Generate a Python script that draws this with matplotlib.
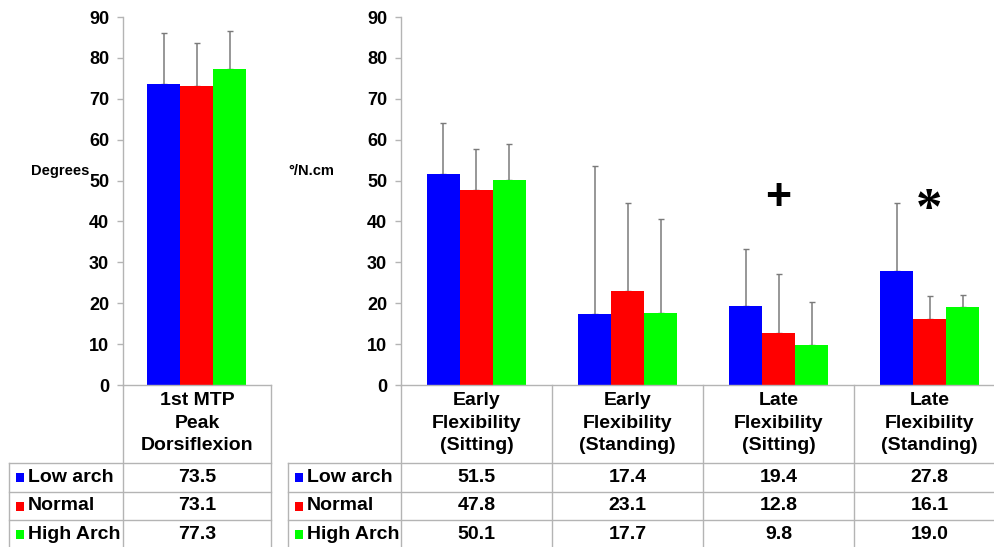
import matplotlib
matplotlib.use('Agg')
import matplotlib.pyplot as plt
from matplotlib.patches import Rectangle
from matplotlib.lines import Line2D
import numpy as np

plt.rcParams['font.family'] = ['Liberation Sans', 'DejaVu Sans']
plt.rcParams['font.weight'] = 'bold'

# ── Data ─────────────────────────────────────────────────────────────────────
groups = ['Low arch', 'Normal', 'High Arch']
colors = ['#0000FF', '#FF0000', '#00FF00']

left_cat = ['1st MTP\nPeak\nDorsiflexion']
left_mean = {'Low arch': [73.5], 'Normal': [73.1], 'High Arch': [77.3]}
left_sd = {'Low arch': [12.6], 'Normal': [10.5], 'High Arch': [9.2]}

right_cat = ['Early\nFlexibility\n(Sitting)', 'Early\nFlexibility\n(Standing)',
             'Late\nFlexibility\n(Sitting)', 'Late\nFlexibility\n(Standing)']
right_mean = {'Low arch': [51.5, 17.4, 19.4, 27.8],
              'Normal': [47.8, 23.1, 12.8, 16.1],
              'High Arch': [50.1, 17.7, 9.8, 19.0]}
right_sd = {'Low arch': [12.6, 36.1, 13.9, 16.7],
            'Normal': [10.0, 21.5, 14.4, 5.7],
            'High Arch': [8.9, 23.0, 10.6, 3.0]}

# significance markers: (category index, symbol)
markers = [(2, '+'), (3, '*')]

W, H = 995, 547
fig = plt.figure(figsize=(W / 100, H / 100), dpi=100)
fig.patch.set_facecolor('white')

GRID = '#b4b4b4'
Y0, Y90 = 385, 17          # pixel rows of 0 and 90
ROWS = [463, 492, 520, 549]  # table row lines


def fx(x):
    return x / W


def fy(y):
    return 1 - y / H


def hline(x0, x1, y):
    fig.add_artist(Line2D([fx(x0), fx(x1)], [fy(y), fy(y)], color=GRID, lw=1.0))


def vline(x, y0, y1):
    fig.add_artist(Line2D([fx(x), fx(x)], [fy(y0), fy(y1)], color=GRID, lw=1.0))


def panel(x0, x1, cats, means, sds, ylabel, ylabel_x):
    ax = fig.add_axes([fx(x0), fy(Y0), (x1 - x0) / W, (Y0 - Y90) / H])
    n = len(cats)
    xs = np.arange(n)
    bw = 33 / ((x1 - x0) / n)
    for i, g in enumerate(groups):
        pos = xs + (i - 1) * bw
        ax.bar(pos, means[g], width=bw, color=colors[i], zorder=2)
        ax.errorbar(pos, means[g], yerr=[np.zeros(n), sds[g]], fmt='none',
                    ecolor='#7a7a7a', elinewidth=1.1, capsize=2.2, capthick=1.0,
                    zorder=1)
    ax.set_xlim(-0.5, n - 0.5)
    ax.set_ylim(0, 90)
    ax.set_yticks(range(0, 91, 10))
    ax.set_xticks([])
    for s in ['top', 'right']:
        ax.spines[s].set_visible(False)
    for s in ['left', 'bottom']:
        ax.spines[s].set_color(GRID)
        ax.spines[s].set_linewidth(1.0)
    ax.tick_params(axis='y', colors=GRID, length=4, width=1.0, pad=6,
                   labelcolor='black', labelsize=13)
    for t in ax.get_yticklabels():
        t.set_fontweight('bold')
    ax.patch.set_alpha(0)
    fig.text(fx(ylabel_x), fy(171), ylabel, fontsize=10.5, fontweight='bold',
             ha='left', va='center')

    # table below the panel
    colw = (x1 - x0) / n
    for j, c in enumerate(cats):
        cx = x0 + colw * (j + 0.5)
        fig.text(fx(cx), fy((Y0 + ROWS[0]) / 2 - 1), c, ha='center', va='center',
                 fontsize=14, fontweight='bold', linespacing=1.42)
        for i, g in enumerate(groups):
            ry = (ROWS[i] + ROWS[i + 1]) / 2
            fig.text(fx(cx), fy(ry), f'{means[g][j]:.1f}', ha='center',
                     va='center', fontsize=14, fontweight='bold')
    vline(x0, Y0, H + 2)
    for j in range(1, n + 1):
        vline(x0 + colw * j, Y0, H + 2)
    return ax


def row_labels(xl, xr):
    vline(xl, ROWS[0], H + 2)
    for r in ROWS[:3]:
        hline(xl, xr, r)
    for i, g in enumerate(groups):
        ry = (ROWS[i] + ROWS[i + 1]) / 2
        fig.add_artist(Rectangle((fx(xl + 7), fy(ry + 4.5)), 8 / W, 9 / H,
                                 transform=fig.transFigure, color=colors[i], lw=0))
        fig.text(fx(xl + 19), fy(ry), g, ha='left', va='center',
                 fontsize=14, fontweight='bold')


ax1 = panel(123, 271, left_cat, left_mean, left_sd, 'Degrees', 31)
ax2 = panel(401, 1005, right_cat, right_mean, right_sd, '°/N.cm', 288)
row_labels(9, 271)
row_labels(288, 1005)

# significance symbols
for idx, sym in markers:
    if sym == '+':
        ax2.text(idx, 45.6, sym, ha='center', va='center', fontsize=32,
                 fontweight='bold', family='Liberation Sans')
    else:
        ax2.text(idx, 42.5, sym, ha='center', va='center', fontsize=38,
                 fontweight='bold', family='Liberation Serif')

fig.savefig('out.png', dpi=100, facecolor='white')
